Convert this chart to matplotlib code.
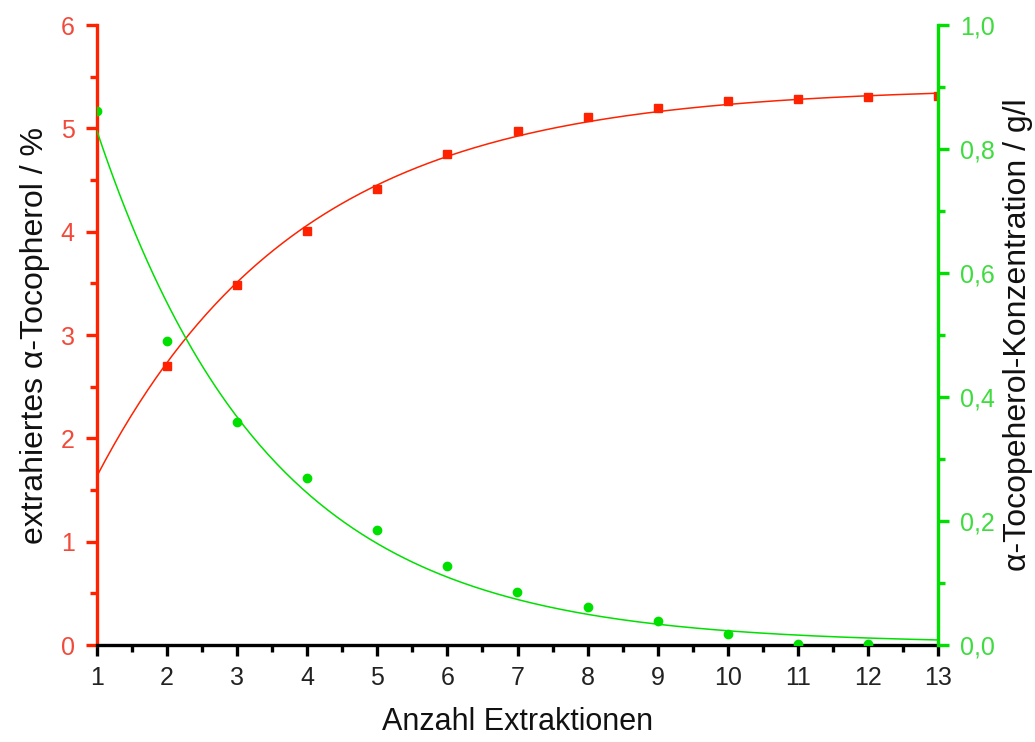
import numpy as np
import matplotlib
matplotlib.use("Agg")
import matplotlib.pyplot as plt
from matplotlib.ticker import MultipleLocator, FuncFormatter

plt.rcParams['font.family'] = ['Liberation Sans', 'DejaVu Sans']

# data
extraction = [2, 3, 4, 5, 6, 7, 8, 9, 10, 11, 12, 13]
tocopherol_pct = [2.70, 3.48, 4.01, 4.41, 4.75, 4.97, 5.11, 5.20, 5.26, 5.28, 5.30, 5.31]

extraction_conc = [1, 2, 3, 4, 5, 6, 7, 8, 9, 10, 11, 12]
concentration = [0.862, 0.490, 0.359, 0.270, 0.185, 0.127, 0.085, 0.061, 0.039, 0.017, 0.002, 0.002]

# exponential fit parameters (y0, A, t) as drawn in the chart
red_fit = (5.40, 3.764, 2.90)     # y = y0 - A*exp(-(x-1)/t)
green_fit = (0.002, 0.827, 2.45)  # y = y0 + A*exp(-(x-1)/t)

RED = '#FF2200'
RED_TXT = '#F24A3A'
GREEN = '#00E000'
GREEN_TXT = '#3EDC3E'

fig = plt.figure(figsize=(10.35, 7.42), dpi=100)
ax = fig.add_axes([0.0937, 0.1307, 0.8126, 0.8356])
ax2 = ax.twinx()

xs = np.linspace(1, 13, 300)
ax.plot(xs, red_fit[0] - red_fit[1] * np.exp(-(xs - 1) / red_fit[2]), color=RED, lw=1.1)
ax.plot(extraction, tocopherol_pct, 's', color=RED, ms=6)

ax2.plot(xs, green_fit[0] + green_fit[1] * np.exp(-(xs - 1) / green_fit[2]), color=GREEN, lw=1.1)
ax2.plot(extraction_conc, concentration, 'o', color=GREEN, ms=6)

ax.set_xlim(1, 13)
ax.set_ylim(0, 6)
ax2.set_ylim(0, 1.0)

# spines
for a in (ax, ax2):
    a.spines['top'].set_visible(False)
ax.spines['right'].set_visible(False)
ax2.spines['left'].set_visible(False)
ax2.spines['bottom'].set_visible(False)
ax.spines['left'].set_color(RED)
ax.spines['left'].set_linewidth(2.4)
ax.spines['bottom'].set_color('black')
ax.spines['bottom'].set_linewidth(2.4)
ax2.spines['right'].set_color(GREEN)
ax2.spines['right'].set_linewidth(2.4)

# ticks
ax.xaxis.set_major_locator(MultipleLocator(1))
ax.xaxis.set_minor_locator(MultipleLocator(0.5))
ax.yaxis.set_major_locator(MultipleLocator(1))
ax.yaxis.set_minor_locator(MultipleLocator(0.5))
ax2.yaxis.set_major_locator(MultipleLocator(0.2))
ax2.yaxis.set_minor_locator(MultipleLocator(0.1))
ax2.yaxis.set_major_formatter(FuncFormatter(lambda v, p: f"{v:.1f}".replace('.', ',')))

ax.tick_params(axis='x', which='major', direction='out', length=8, width=2.4,
               color='black', labelsize=18, labelcolor='#222222', pad=7)
ax.tick_params(axis='x', which='minor', direction='out', length=5, width=2.4, color='black')
ax.tick_params(axis='y', which='major', direction='out', length=8, width=2.4,
               color=RED, labelsize=18, labelcolor=RED_TXT, pad=8)
ax.tick_params(axis='y', which='minor', direction='out', length=5, width=2.4, color=RED)
ax2.tick_params(axis='y', which='major', direction='out', length=8, width=2.4,
                color=GREEN, labelsize=18, labelcolor=GREEN_TXT, pad=8)
ax2.tick_params(axis='y', which='minor', direction='out', length=5, width=2.4, color=GREEN)

ax.set_xlabel('Anzahl Extraktionen', fontsize=22, color='#111111', labelpad=12)
ax.set_ylabel('extrahiertes α-Tocopherol / %', fontsize=23, color='#111111', labelpad=8)
ax2.set_ylabel('α-Tocopeherol-Konzentration / g/l', fontsize=23, color='#111111', labelpad=6)

fig.savefig('out.png', dpi=100, facecolor='white')
